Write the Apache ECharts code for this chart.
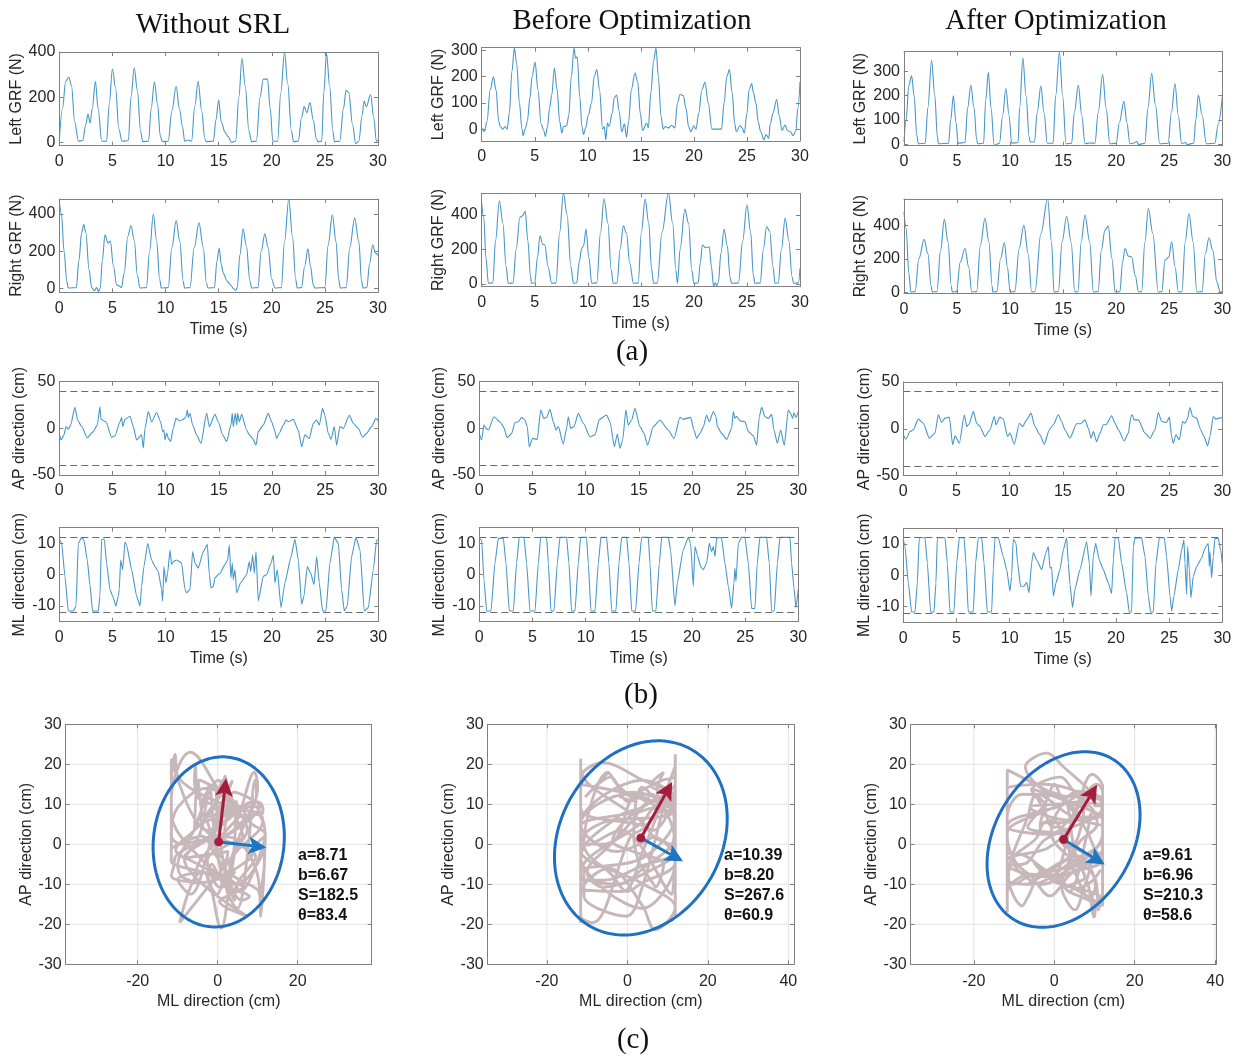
<!DOCTYPE html>
<html>
<head>
<meta charset="utf-8">
<title>GRF and COP sway comparison</title>
<script src="https://cdn.jsdelivr.net/npm/echarts@6.0.0/dist/echarts.min.js"></script>
<style>
  html, body { margin: 0; padding: 0; background: #ffffff; }
  #chart { width: 1238px; height: 1057px; }
</style>
</head>
<body>
<div id="chart"></div>
<script>
// ---------- data ----------
const columnTitles = ['Without SRL', 'Before Optimization', 'After Optimization'];
const panelTags = ['(a)', '(b)', '(c)'];
const timeTicks = [0, 5, 10, 15, 20, 25, 30];
const timeRange = [0, 30];

// ground reaction force, [time (s), force (N)]
const leftGrfWithout = [[0,8],[0.3,150],[0.6,270],[0.9,288],[1.15,250],[1.45,90],[1.8,5],[2.2,8],[2.5,80],[2.7,125],[2.9,85],[3.1,150],[3.4,270],[3.65,150],[4.0,5],[4.45,5],[4.7,170],[5.0,325],[5.3,240],[5.6,60],[5.9,5],[6.5,8],[6.75,200],[7.05,330],[7.35,230],[7.65,50],[7.85,3],[8.4,5],[8.65,150],[8.95,268],[9.25,170],[9.5,30],[9.7,3],[10.25,5],[10.6,140],[11.0,248],[11.3,150],[11.6,70],[11.8,5],[12.1,10],[12.45,5],[12.75,160],[13.07,270],[13.4,140],[13.7,15],[13.85,3],[14.5,5],[14.75,100],[15.0,187],[15.25,90],[15.6,45],[15.9,25],[16.2,0],[16.6,5],[16.9,200],[17.2,372],[17.5,250],[17.85,50],[18.1,3],[18.55,5],[18.9,200],[19.2,280],[19.6,280],[19.85,150],[20.1,5],[20.55,5],[20.85,220],[21.2,400],[21.5,260],[21.85,50],[22.05,3],[22.5,5],[22.8,110],[23.05,158],[23.3,131],[23.6,176],[23.9,100],[24.2,15],[24.35,3],[24.7,5],[24.9,220],[25.15,394],[25.45,250],[25.75,50],[25.9,3],[26.4,5],[26.75,150],[27.0,230],[27.25,220],[27.6,80],[27.9,-5],[28.2,5],[28.5,120],[28.7,183],[28.9,158],[29.3,212],[29.6,110],[29.85,5],[30,8]];
const rightGrfWithout = [[0,471],[0.2,400],[0.45,200],[0.7,40],[0.85,3],[1.6,5],[1.85,150],[2.1,300],[2.3,343],[2.5,300],[2.8,100],[3.05,5],[3.3,-12],[3.5,5],[3.7,-15],[3.85,0],[4.05,150],[4.3,288],[4.6,243],[4.8,254],[5.1,120],[5.4,20],[5.6,15],[5.85,5],[6.1,80],[6.45,280],[6.75,338],[7.05,260],[7.35,70],[7.6,3],[8.2,5],[8.5,200],[8.85,400],[9.15,260],[9.45,50],[9.6,3],[10.25,5],[10.6,220],[11.0,364],[11.35,250],[11.65,40],[11.8,3],[12.3,5],[12.7,220],[13.15,352],[13.55,220],[13.85,30],[14.0,3],[14.6,5],[14.85,150],[15.05,217],[15.25,130],[15.45,80],[15.8,40],[16.15,18],[16.4,0],[16.6,-10],[16.75,5],[17.0,180],[17.3,320],[17.6,230],[17.95,40],[18.1,3],[18.7,5],[19.0,200],[19.35,293],[19.65,220],[20.0,50],[20.3,3],[20.9,5],[21.2,250],[21.6,480],[21.95,280],[22.25,50],[22.4,3],[22.8,5],[23.1,120],[23.4,213],[23.65,120],[23.9,20],[24.05,3],[25.0,5],[25.3,230],[25.7,395],[26.05,250],[26.3,50],[26.45,3],[27.0,5],[27.35,220],[27.8,379],[28.2,250],[28.45,40],[28.6,3],[28.95,5],[29.2,130],[29.5,235],[29.75,190],[30,178]];
const leftGrfBefore = [[0,4],[0.25,-9],[0.5,30],[0.8,150],[1.1,199],[1.35,150],[1.6,30],[1.75,10],[2.0,0],[2.2,10],[2.4,0],[2.6,60],[2.85,220],[3.08,309],[3.3,250],[3.55,100],[3.8,0],[3.9,-25],[4.1,0],[4.3,30],[4.55,120],[4.75,200],[5.03,255],[5.3,150],[5.6,20],[5.85,-5],[6.0,-28],[6.2,10],[6.4,80],[6.6,130],[6.85,233],[7.1,150],[7.35,30],[7.55,-15],[7.7,10],[8.0,13],[8.2,50],[8.45,200],[8.7,309],[8.85,270],[9.0,275],[9.25,120],[9.45,10],[9.6,-20],[9.8,5],[10.05,54],[10.35,100],[10.6,200],[10.85,227],[11.1,150],[11.4,0],[11.55,10],[11.7,-40],[11.85,23],[12.0,10],[12.3,60],[12.5,120],[12.72,130],[12.95,70],[13.2,-10],[13.45,20],[13.65,-31],[13.85,30],[14.1,150],[14.45,214],[14.7,180],[14.95,60],[15.17,-5],[15.55,23],[15.7,5],[15.95,140],[16.2,260],[16.43,309],[16.65,200],[16.9,50],[17.1,0],[17.3,10],[17.6,5],[17.9,15],[18.2,5],[18.45,100],[18.7,132],[19.0,128],[19.25,80],[19.5,10],[19.7,-10],[20.0,13],[20.2,0],[20.45,60],[20.75,150],[21.05,178],[21.35,100],[21.7,0],[22.6,0],[22.85,100],[23.1,200],[23.35,227],[23.6,140],[23.85,20],[24.0,-10],[24.35,14],[24.55,5],[24.75,-15],[25.0,60],[25.2,150],[25.45,174],[25.6,140],[25.85,98],[26.05,30],[26.3,-10],[26.6,-40],[26.8,-20],[27.05,-35],[27.2,20],[27.45,60],[27.8,113],[28.05,50],[28.3,-5],[28.6,16],[28.8,-5],[29.1,-10],[29.35,-25],[29.6,-8],[29.8,80],[30,180]];
const rightGrfBefore = [[0,468],[0.2,380],[0.4,150],[0.63,3],[1.05,5],[1.3,250],[1.67,482],[2.0,350],[2.3,100],[2.5,3],[2.95,5],[3.25,200],[3.6,386],[3.85,395],[4.1,420],[4.35,250],[4.6,40],[4.7,3],[5.0,5],[5.25,150],[5.5,278],[5.75,230],[5.95,225],[6.25,100],[6.6,3],[7.0,5],[7.35,300],[7.7,526],[8.05,400],[8.4,100],[8.65,3],[8.95,5],[9.2,130],[9.42,206],[9.6,220],[9.83,317],[10.1,150],[10.37,3],[10.85,5],[11.2,300],[11.53,493],[11.9,350],[12.2,80],[12.4,3],[12.75,5],[13.05,200],[13.35,336],[13.65,293],[13.95,120],[14.3,3],[14.75,5],[15.05,300],[15.4,491],[15.75,350],[16.0,90],[16.2,3],[16.55,5],[17.0,300],[17.6,526],[18.0,350],[18.3,80],[18.45,3],[18.7,200],[19.15,433],[19.5,350],[19.8,80],[20.0,3],[20.4,5],[20.6,120],[20.8,225],[21.1,210],[21.45,215],[21.65,100],[21.85,-15],[22.0,5],[22.15,-10],[22.3,5],[22.55,180],[22.85,317],[23.15,220],[23.4,40],[23.55,3],[24.2,5],[24.6,250],[25.0,458],[25.35,300],[25.6,50],[25.75,3],[26.25,5],[26.55,200],[26.85,332],[27.15,303],[27.45,100],[27.65,3],[27.95,5],[28.25,200],[28.6,381],[28.95,250],[29.25,40],[29.4,3],[29.85,5],[30,90]];
const leftGrfAfter = [[0,11],[0.2,100],[0.45,240],[0.72,281],[0.95,200],[1.2,40],[1.35,3],[2.0,5],[2.25,150],[2.6,345],[2.9,200],[3.15,30],[3.25,3],[4.2,5],[4.4,100],[4.65,199],[4.9,90],[5.1,5],[5.75,8],[6.0,150],[6.3,243],[6.6,150],[6.85,20],[6.95,3],[7.5,5],[7.7,180],[7.95,297],[8.2,150],[8.5,-3],[9.0,5],[9.3,120],[9.6,229],[9.9,120],[10.15,5],[10.75,8],[10.9,150],[11.2,355],[11.5,200],[11.8,30],[11.9,10],[12.3,10],[12.55,130],[12.9,239],[13.2,130],[13.5,5],[14.05,5],[14.3,200],[14.65,379],[14.95,200],[15.27,3],[15.8,5],[16.05,130],[16.43,243],[16.75,120],[17.06,3],[17.5,6],[18.0,5],[18.3,130],[18.72,286],[19.05,150],[19.4,3],[20.0,5],[20.3,90],[20.73,177],[21.0,90],[21.3,3],[21.6,5],[21.95,12],[22.1,0],[22.7,5],[23.0,150],[23.34,290],[23.7,160],[24.1,3],[24.9,5],[25.2,130],[25.54,250],[25.85,120],[26.17,3],[26.5,8],[26.7,0],[27.3,5],[27.5,100],[27.74,202],[28.1,120],[28.5,3],[29.3,5],[29.6,80],[30,195]];
const rightGrfAfter = [[0,479],[0.2,380],[0.45,120],[0.65,3],[1.05,5],[1.4,200],[1.9,315],[2.25,230],[2.55,40],[2.67,3],[3.1,5],[3.45,250],[3.8,434],[4.15,300],[4.45,40],[4.55,3],[4.95,5],[5.3,180],[5.75,261],[6.1,150],[6.38,3],[6.85,5],[7.2,280],[7.63,440],[8.0,300],[8.3,40],[8.36,3],[8.75,5],[9.1,200],[9.46,295],[9.75,150],[10.0,3],[10.45,5],[10.85,260],[11.3,400],[11.7,230],[12.03,3],[12.35,5],[12.9,350],[13.54,555],[13.9,300],[14.14,3],[14.55,5],[14.9,300],[15.33,453],[15.75,300],[16.1,3],[16.4,5],[16.7,300],[17.06,459],[17.5,300],[17.85,3],[18.3,5],[18.6,250],[18.94,370],[19.25,394],[19.6,200],[19.9,3],[20.35,5],[20.6,180],[20.83,261],[21.15,216],[21.45,212],[21.8,100],[22.1,3],[22.4,5],[22.7,300],[23.03,499],[23.45,350],[23.97,3],[24.3,5],[24.6,192],[24.95,210],[25.23,301],[25.55,150],[25.86,3],[26.2,5],[26.5,300],[26.86,469],[27.25,300],[27.6,3],[28.1,5],[28.4,230],[28.75,325],[29.1,250],[29.5,60],[29.8,3],[30,5]];

const leftGrfTicks = [[0, 200, 400], [0, 100, 200, 300], [0, 100, 200, 300]];
const rightGrfTicks = [[0, 200, 400], [0, 200, 400], [0, 200, 400]];
const leftGrfRange = [[-15, 400], [-45, 310], [-5, 380]];
const rightGrfRange = [[-20, 480], [-17, 525], [-5, 555]];

// centre of pressure displacement, [time (s), displacement (cm)]
const apWithout = [[0,-6],[0.16,-12.5],[0.44,-7],[0.63,2],[0.85,-1],[1.07,3.5],[1.47,22.5],[1.72,9],[2.1,2],[2.63,-10],[3.2,-3.5],[3.57,3.5],[3.82,23],[3.92,9.6],[4.39,7],[4.92,-9.6],[5.24,-8],[5.71,7],[5.86,11.8],[5.96,1.8],[6.18,9.6],[6.65,13],[6.96,1.8],[7.27,-12.5],[7.74,-7],[7.9,-21],[8.06,0],[8.37,18],[8.68,7],[9.15,17],[9.53,7],[9.72,-3.5],[9.84,-1.8],[9.94,-12.5],[10.09,-5],[10.25,-10.7],[10.47,-14],[10.72,0],[10.97,10.7],[11.35,8],[11.66,9.6],[11.91,12.5],[12.04,19.6],[12.13,11.8],[12.29,16],[12.54,3.5],[12.92,-7],[13.32,-16],[13.86,16],[14.11,1.8],[14.64,15],[14.95,7],[15.36,-7],[15.74,-14],[16.14,3.5],[16.27,16],[16.36,1.8],[16.55,16],[16.68,3.5],[16.77,16],[16.93,7],[17.15,15],[17.62,-1.8],[17.87,-7],[18.18,-10.7],[18.5,-18],[18.71,-3.5],[19.18,3.5],[19.65,16],[19.97,7],[20.19,0],[20.44,-10.7],[20.69,-5],[21.07,3.5],[21.32,9],[21.54,7],[22.0,9.6],[22.48,-1.8],[22.79,-19.6],[23.1,-7],[23.51,-10.7],[23.89,5.4],[24.2,9],[24.45,3.5],[24.76,21.4],[24.98,14],[25.3,-5.4],[25.55,-11.8],[25.86,1.8],[26.08,-18],[26.39,1.8],[26.71,0],[27.27,14],[27.65,5.4],[28.12,0],[28.53,-9.6],[28.9,-5.4],[29.37,1.8],[29.78,10.7],[30,8]];
const mlWithout = [[0,11.6],[0.22,10],[0.53,-0.5],[0.85,-11.6],[1.32,-11.6],[1.57,-10],[1.79,10],[2.1,11.9],[2.32,11],[2.63,4.7],[2.88,-3.2],[3.13,-11.6],[3.67,-11.6],[3.82,-6.8],[3.98,11.3],[4.23,11.3],[4.45,3.7],[4.76,-4.7],[5.02,-6.8],[5.33,-10],[5.55,-6.8],[5.64,-4.7],[5.77,4.7],[5.96,1.6],[6.18,10.5],[6.33,9.5],[6.8,1.6],[7.27,-6.8],[7.59,-10],[7.74,-3.7],[7.96,2.6],[8.31,10],[8.68,4.7],[9.0,2.6],[9.31,1],[9.62,-4.7],[9.72,-8.4],[9.84,2.6],[10.03,-2.6],[10.19,0.5],[10.41,7.9],[10.56,3.2],[10.72,4.2],[11.03,4.7],[11.5,3.7],[11.82,-4.7],[11.97,-5.8],[12.29,-4.7],[12.54,7.4],[12.76,3.7],[13.07,2.1],[13.54,7.4],[13.92,9.7],[14.11,0],[14.26,-4.2],[14.48,-3.7],[14.64,-1],[15.11,0.5],[15.58,3.2],[15.83,4.7],[15.99,9.5],[16.14,-1],[16.27,3.7],[16.36,-1.6],[16.52,1.6],[16.68,-5.8],[17.05,-2.6],[17.62,0],[17.87,4.2],[18.0,1],[18.18,6.3],[18.34,0.5],[18.5,7.4],[18.71,-8.4],[19.18,-0.5],[19.5,0],[19.91,3.7],[20.13,6.3],[20.28,-2.6],[20.5,1.6],[20.85,-10.5],[21.22,-2.6],[21.76,5.3],[22.16,11.3],[22.48,4.7],[22.79,-9.5],[23.01,-6.8],[23.32,2.6],[23.64,0.5],[23.95,-3.2],[24.2,5.8],[24.45,-2.6],[24.76,-11.6],[25.08,-11.6],[25.45,3.7],[25.86,11.9],[26.24,10],[26.55,-4.7],[26.8,-11.6],[27.08,-10],[27.49,5.8],[27.9,11.9],[28.28,7.9],[28.68,-11.6],[29.06,-10.5],[29.53,1.6],[29.84,11],[30,11.3]];
const apBefore = [[0,-5.4],[0.22,-12.5],[0.44,3.5],[0.63,0],[0.85,-1.8],[1.38,12.5],[1.94,7],[2.26,1.8],[2.63,-10],[3.04,-5.4],[3.35,6],[3.67,7],[3.98,11.8],[4.29,9],[4.51,1.8],[4.7,-19.6],[5.02,-10.7],[5.45,-11.8],[5.77,19.6],[6.08,10.7],[6.33,11.8],[6.65,20.4],[6.96,7],[7.21,-1.8],[7.43,1.8],[7.9,-17],[8.21,0],[8.37,12.5],[8.59,0],[8.9,1.8],[9.31,16],[9.78,5.4],[10.41,-9],[10.88,-7],[11.29,9.6],[11.97,14.3],[12.29,7],[12.7,-19.6],[12.98,-6],[13.23,-21.4],[13.48,-12.5],[13.79,19.6],[14.01,3.5],[14.33,9],[14.64,21.4],[15.11,1.8],[15.49,-5.4],[15.83,-18],[16.36,1.8],[16.99,9],[17.77,-1.8],[18.31,-10.7],[18.87,11.8],[19.18,9.6],[19.5,10.7],[19.87,11.8],[20.19,-1.8],[20.44,-10.7],[20.75,-5.4],[21.07,1.8],[21.38,14.3],[21.63,7],[22.01,18],[22.26,12.5],[22.38,1.8],[22.79,-5.4],[23.26,-11.8],[23.73,0],[23.89,18],[24.04,10.7],[24.2,13],[24.51,8],[24.98,7],[25.3,-3.5],[25.77,-8],[26.08,-18],[26.33,12.5],[26.55,22.5],[26.87,12.5],[27.18,10.7],[27.49,15],[27.71,-1.8],[28.03,-16],[28.34,-1.8],[28.68,-18],[29.06,19.6],[29.28,16],[29.47,10.7],[29.59,16.8],[29.78,11.8],[30,18]];
const mlBefore = [[0,11.6],[0.22,11],[0.44,-1.6],[0.69,-11.6],[1.1,-11.6],[1.47,3.7],[1.79,11.6],[2.26,11.6],[2.51,3.7],[2.82,-11.6],[3.2,-11.6],[3.51,3.7],[3.76,11.9],[4.2,11.9],[4.45,3.7],[4.76,-11.6],[5.24,-11.6],[5.55,3.7],[5.77,11.9],[6.33,11.9],[6.49,3.7],[6.74,-11.6],[7.02,-11.6],[7.34,3.7],[7.59,11.9],[8.21,11.9],[8.43,3.7],[8.68,-11.6],[9.0,-11.6],[9.31,3.7],[9.53,11.9],[10.09,11.9],[10.25,3.7],[10.5,-11.6],[10.88,-11.6],[11.19,3.7],[11.44,11.9],[11.97,11.9],[12.19,3.7],[12.45,-11.6],[12.85,-11.6],[13.13,3.7],[13.39,11.9],[13.86,11.9],[14.08,3.7],[14.33,-11.6],[14.7,-11.6],[15.02,3.7],[15.27,11.9],[15.89,11.9],[16.05,3.7],[16.27,-11.6],[16.61,-11.6],[16.93,3.7],[17.15,11.9],[17.77,11.9],[17.99,7.9],[18.4,-10],[18.62,-2.6],[19.18,7.9],[19.65,11.9],[19.87,10],[20.13,-3.7],[20.28,9],[20.5,6.3],[20.82,2.6],[21.07,1.6],[21.38,3.7],[21.63,10],[21.85,7.4],[22.01,9],[22.16,5.8],[22.32,11.6],[22.63,11.9],[22.79,11.6],[23.1,3.7],[23.42,-3.7],[23.73,-10.8],[23.95,-2.6],[24.04,2.1],[24.14,-2.1],[24.36,10],[24.67,11.9],[24.98,11.9],[25.3,3.7],[25.61,-10.8],[25.92,-10.8],[26.14,3.7],[26.39,11.9],[27.02,11.9],[27.27,3.7],[27.49,-11.6],[27.74,-11.6],[28.03,3.7],[28.28,11.9],[29.22,11.9],[29.37,3.7],[29.59,-4.2],[29.78,-10.5],[30,-4.7]];
const apAfter = [[0,-6.4],[0.25,-11],[0.63,-2.9],[0.94,-1],[1.41,10.4],[1.88,6],[2.45,-10],[2.98,-4.6],[3.29,15],[3.61,6.8],[3.92,11.4],[4.33,12.5],[4.64,-17],[4.86,-7.5],[5.27,-15.4],[5.74,15],[5.96,2.5],[6.21,5.4],[6.58,18.6],[6.9,6],[7.21,2.5],[7.68,-8.2],[8.15,-1],[8.56,13.2],[8.71,4.3],[9.09,12.5],[9.4,10.4],[9.81,-8.2],[10.03,-4.6],[10.44,-16.4],[10.91,6],[11.22,2.5],[11.6,9.6],[12.01,16.8],[12.38,2.5],[12.85,-6.4],[13.26,-16.4],[13.73,-1],[14.11,4.3],[14.58,15],[14.89,7.9],[15.2,-1],[15.67,-10],[16.3,5.4],[16.68,5.4],[17.08,9.6],[17.4,0.7],[17.65,-10],[17.87,-2.9],[18.18,-13.6],[18.5,-4.6],[18.81,4.3],[19.06,4.3],[19.59,14],[19.91,6],[20.22,-1],[20.78,-12.9],[21.16,-4.6],[21.41,13.2],[21.54,15],[21.69,9.6],[22.1,9.6],[22.73,-4.6],[23.2,-10],[23.67,-1],[23.98,17.5],[24.29,7.9],[24.76,6.8],[25.02,12.5],[25.24,-8.2],[25.39,-15.4],[25.64,-6.4],[25.96,-11.8],[26.27,7.9],[26.49,6],[26.71,10.4],[26.96,22.8],[27.21,13.2],[27.59,11.4],[27.9,0.7],[28.28,-8.2],[28.62,-18.2],[28.84,-8.2],[29.15,13.2],[29.4,10.4],[29.72,11.4],[30,12.5]];
const mlAfter = [[0,11.5],[0.16,9.2],[0.47,-2.4],[0.78,-11.7],[1.1,-11.7],[1.32,-2.4],[1.5,12],[2.04,12],[2.26,3.9],[2.57,-11.7],[2.88,-11.7],[3.07,-2.4],[3.2,12],[3.92,12],[4.14,3.9],[4.39,-11.7],[4.76,-11.7],[5.02,3.9],[5.27,12],[5.71,12],[5.89,3.9],[6.11,-11.7],[6.58,-11.7],[6.8,3.9],[7.05,12],[7.37,12],[7.59,3.9],[7.9,-11.7],[8.31,-11.7],[8.46,1.8],[8.62,12],[8.93,12],[9.4,6],[9.72,1.8],[10.03,-5.1],[10.19,-0.3],[10.34,11.5],[10.6,10.2],[10.75,3.9],[11.03,-3.5],[11.35,-3.5],[11.6,-2.2],[11.82,-5.6],[12.07,3.9],[12.23,7.3],[12.54,4.9],[13.01,1.8],[13.42,7.3],[13.64,9.2],[13.79,2.3],[13.95,2.6],[14.11,-6.6],[14.36,-2.4],[14.73,1.8],[15.05,8.1],[15.36,12],[15.52,3.9],[15.67,-2.9],[15.92,-10.3],[16.14,-4.5],[16.61,1.8],[17.24,10.7],[17.49,3.9],[17.65,-6.6],[17.87,6],[18.09,10.2],[18.43,4.9],[18.81,1.8],[19.28,-2.4],[19.59,-5.8],[19.75,4.9],[19.91,12],[20.22,12],[20.53,3.9],[21.0,-5.6],[21.25,-11.7],[21.47,-11.7],[21.63,9.2],[21.79,11.8],[22.41,12],[22.73,6],[23.04,-6.6],[23.26,-11.7],[23.51,-11.7],[23.76,3.9],[24.08,12],[24.55,12],[24.76,6],[25.08,-6.6],[25.24,-11.4],[25.45,-6.6],[25.86,1.8],[26.18,8.1],[26.39,11.3],[26.49,3.9],[26.65,-6.1],[26.74,9.2],[26.9,1.8],[27.05,-7.2],[27.27,-0.3],[27.59,2.8],[28.06,5.5],[28.37,8.6],[28.68,10.2],[28.78,2.8],[28.84,7.6],[29.0,-0.8],[29.15,6],[29.31,11.8],[29.62,11.8],[29.84,8.1],[30,3.9]];

const apTicks = [-50, 0, 50];
const apRange = [-50, 50];
const apLimit = 40;
const mlTicks = [-10, 0, 10];
const mlRange = [-15, 15];
const mlLimit = 12;

// sway ellipse statistics
const ellipseA = [8.71, 10.39, 9.61];
const ellipseB = [6.67, 8.20, 6.96];
const ellipseArea = [182.5, 267.6, 210.3];
const ellipseTheta = [83.4, 60.9, 58.6];
const ellipseCenter = [[0.25, 0.6], [3.35, 1.6], [2.3, 1.2]];
const swayXTicks = [[-20, 0, 20], [-20, 0, 20, 40], [-20, 0, 20, 40]];
const swayXRange = [[-38, 38.5], [-34.7, 41.4], [-35.7, 40.2]];
const swayYTicks = [-30, -20, -10, 0, 10, 20, 30];
const swayYRange = [-30, 30];

// ---------- layout & style ----------
const LAYOUT = {
  ts: [
    [[59.3, 52, 318.7, 93.7], [59.3, 199, 318.7, 93.3], [59.3, 381.7, 319, 93.3], [59.3, 527.7, 319, 94]],
    [[481.7, 47.7, 318.3, 93.3], [481.7, 193.3, 318.3, 93.4], [479.3, 381.7, 319, 93.3], [479.3, 527.7, 319, 94]],
    [[904, 51.7, 318.3, 94], [904, 199, 318.3, 94.3], [903.3, 382, 319, 93.7], [903.3, 528.3, 319, 94]]
  ],
  tsNameGap: [[34, 34, 32, 32], [35, 35, 31.5, 31.5], [35.5, 35.5, 31, 31]],
  sway: [[65.7, 724.3, 306, 240], [487.7, 724.3, 306.3, 240], [910.7, 724.3, 305.3, 240]],
  swayNameGap: [31, 31.5, 31],
  titles: [[213, 25], [632, 21.5], [1056, 21.5]],
  tags: [[632, 352], [641, 695], [633, 1040]],
  stats: [[298, 856], [724, 856], [1143, 856]]
};
const AXIS_COLOR = '#808080';
const TEXT_COLOR = '#262626';
const SANS = '"Liberation Sans", Arial, Helvetica, sans-serif';
const SERIF = '"Liberation Serif", "Times New Roman", serif';
const TRACE_COLOR = '#4797c9';
const LIMIT_STYLE = { color: '#6a6a6a', width: 1.2, type: [7, 4] };
const SWAY_COLOR = '#c8b7ba';
const ELLIPSE_COLOR = '#1f70c1';
const MAJOR_COLOR = '#a51d3b';
const MINOR_COLOR = '#1c77c3';
const CONF_SCALE = 2.4477;          // 95% confidence scaling of the sway ellipse
const ARROW_LEN = [16, 12];          // principal-axis arrow lengths (cm)

// ---------- builders ----------
const grids = [], xAxes = [], yAxes = [], series = [], graphics = [];

function axisSet(gridIndex, range, ticks, pos, showLabel, name, nameGap, margin) {
  return {
    gridIndex, type: 'value', position: pos, min: range[0], max: range[1], z: 8,
    axisLine: { show: true, onZero: false, lineStyle: { color: AXIS_COLOR, width: 1 } },
    axisTick: { show: true, inside: true, length: 4, customValues: ticks, lineStyle: { color: AXIS_COLOR, width: 1 } },
    axisLabel: showLabel
      ? { show: true, customValues: ticks, margin, color: TEXT_COLOR, fontSize: 16, fontFamily: SANS }
      : { show: false },
    splitLine: { show: false },
    name: name || '', nameLocation: 'middle', nameGap: nameGap || 0,
    nameTextStyle: { color: TEXT_COLOR, fontSize: 16, fontFamily: SANS }
  };
}

function addPanel(box, xRange, xTicks, xName, yRange, yTicks, yName, yGap, xGap, xMargin) {
  const g = grids.length;
  grids.push({ left: box[0], top: box[1], width: box[2], height: box[3], containLabel: false });
  const xi = xAxes.length, yi = yAxes.length;
  xAxes.push(axisSet(g, xRange, xTicks, 'bottom', true, xName, xGap, xMargin || 8));
  xAxes.push(axisSet(g, xRange, xTicks, 'top', false));
  yAxes.push(axisSet(g, yRange, yTicks, 'left', true, yName, yGap, 4));
  yAxes.push(axisSet(g, yRange, yTicks, 'right', false));
  return { xi, yi };
}

function traceSeries(ax, data, smooth, limit) {
  const s = {
    type: 'line', xAxisIndex: ax.xi, yAxisIndex: ax.yi, data,
    showSymbol: false, smooth, smoothMonotone: 'x', clip: true, silent: true,
    lineStyle: { color: TRACE_COLOR, width: 1.1 }, z: 3
  };
  if (limit != null) {
    s.markLine = {
      silent: true, symbol: 'none', label: { show: false },
      lineStyle: LIMIT_STYLE, data: [{ yAxis: limit }, { yAxis: -limit }]
    };
  }
  return s;
}

function valueAt(track, t) {
  for (let i = 1; i < track.length; i++) {
    if (track[i][0] >= t) {
      const [t0, v0] = track[i - 1], [t1, v1] = track[i];
      return t1 === t0 ? v1 : v0 + (v1 - v0) * (t - t0) / (t1 - t0);
    }
  }
  return track[track.length - 1][1];
}

// pair ML and AP readings on their shared time stamps
function swayPath(ml, ap) {
  const times = Array.from(new Set(ml.map(p => p[0]).concat(ap.map(p => p[0])))).sort((a, b) => a - b);
  return times.map(t => [valueAt(ml, t), valueAt(ap, t)]);
}

function gridLineRender(params, api) {
  const v = api.value(0), dir = api.value(1);
  const cs = params.coordSys;
  if (dir === 0) {
    const x = api.coord([v, 0])[0];
    return { type: 'line', shape: { x1: x, y1: cs.y, x2: x, y2: cs.y + cs.height }, style: { stroke: '#e3e3e3', lineWidth: 1 } };
  }
  const y = api.coord([0, v])[1];
  return { type: 'line', shape: { x1: cs.x, y1: y, x2: cs.x + cs.width, y2: y }, style: { stroke: '#e3e3e3', lineWidth: 1 } };
}

function ellipseRender(params, api) {
  const cx = api.value(0), cy = api.value(1);
  const A = api.value(2) * CONF_SCALE, B = api.value(3) * CONF_SCALE;
  const th = api.value(4) * Math.PI / 180;
  const pts = [];
  for (let i = 0; i <= 180; i++) {
    const p = i / 180 * 2 * Math.PI;
    const x = cx + A * Math.cos(p) * Math.cos(th) - B * Math.sin(p) * Math.sin(th);
    const y = cy + A * Math.cos(p) * Math.sin(th) + B * Math.sin(p) * Math.cos(th);
    pts.push(api.coord([x, y]));
  }
  return { type: 'polyline', shape: { points: pts }, style: { stroke: ELLIPSE_COLOR, lineWidth: 3, fill: null } };
}

function arrowShape(p0, p1, color) {
  const dx = p1[0] - p0[0], dy = p1[1] - p0[1];
  const L = Math.hypot(dx, dy), ux = dx / L, uy = dy / L;
  const hl = 18, hw = 9, notch = 4;
  const bx = p1[0] - ux * hl, by = p1[1] - uy * hl;
  return [
    { type: 'line', shape: { x1: p0[0], y1: p0[1], x2: bx + ux * notch, y2: by + uy * notch }, style: { stroke: color, lineWidth: 3 } },
    { type: 'polygon', shape: { points: [[p1[0], p1[1]], [bx - uy * hw, by + ux * hw], [bx + ux * notch, by + uy * notch], [bx + uy * hw, by - ux * hw]] }, style: { fill: color } }
  ];
}

function axesRender(params, api) {
  const cx = api.value(0), cy = api.value(1), th = api.value(2) * Math.PI / 180;
  const p0 = api.coord([cx, cy]);
  const major = api.coord([cx + ARROW_LEN[0] * Math.cos(th), cy + ARROW_LEN[0] * Math.sin(th)]);
  const tm = th - Math.PI / 2;
  const minor = api.coord([cx + ARROW_LEN[1] * Math.cos(tm), cy + ARROW_LEN[1] * Math.sin(tm)]);
  return {
    type: 'group',
    children: arrowShape(p0, minor, MINOR_COLOR)
      .concat(arrowShape(p0, major, MAJOR_COLOR))
      .concat([{ type: 'circle', shape: { cx: p0[0], cy: p0[1], r: 4.5 }, style: { fill: MAJOR_COLOR } }])
  };
}

// ---------- panels ----------
const leftGrf = [leftGrfWithout, leftGrfBefore, leftGrfAfter];
const rightGrf = [rightGrfWithout, rightGrfBefore, rightGrfAfter];
const apTracks = [apWithout, apBefore, apAfter];
const mlTracks = [mlWithout, mlBefore, mlAfter];

for (let c = 0; c < 3; c++) {
  const L = LAYOUT.ts[c], G = LAYOUT.tsNameGap[c];
  const a1 = addPanel(L[0], timeRange, timeTicks, '', leftGrfRange[c], leftGrfTicks[c], 'Left GRF (N)', G[0]);
  series.push(traceSeries(a1, leftGrf[c], 0.35));
  const a2 = addPanel(L[1], timeRange, timeTicks, 'Time (s)', rightGrfRange[c], rightGrfTicks[c], 'Right GRF (N)', G[1], 29);
  series.push(traceSeries(a2, rightGrf[c], 0.35));
  const a3 = addPanel(L[2], timeRange, timeTicks, '', apRange, apTicks, 'AP direction (cm)', G[2]);
  series.push(traceSeries(a3, apTracks[c], 0.2, apLimit));
  const a4 = addPanel(L[3], timeRange, timeTicks, 'Time (s)', mlRange, mlTicks, 'ML direction (cm)', G[3], 29);
  series.push(traceSeries(a4, mlTracks[c], 0.15, mlLimit));

  const a5 = addPanel(LAYOUT.sway[c], swayXRange[c], swayXTicks[c], 'ML direction (cm)', swayYRange, swayYTicks, 'AP direction (cm)', LAYOUT.swayNameGap[c], 29, 9);
  series.push({
    type: 'custom', xAxisIndex: a5.xi, yAxisIndex: a5.yi, silent: true, z: 1,
    data: swayXTicks[c].map(v => [v, 0]).concat(swayYTicks.map(v => [v, 1])),
    renderItem: gridLineRender
  });
  series.push({
    type: 'line', xAxisIndex: a5.xi, yAxisIndex: a5.yi, silent: true, z: 2, clip: true,
    data: swayPath(mlTracks[c], apTracks[c]), showSymbol: false, smooth: 0.35,
    lineStyle: { color: SWAY_COLOR, width: 2.9 }
  });
  series.push({
    type: 'custom', xAxisIndex: a5.xi, yAxisIndex: a5.yi, silent: true, z: 4,
    data: [[ellipseCenter[c][0], ellipseCenter[c][1], ellipseA[c], ellipseB[c], ellipseTheta[c]]],
    renderItem: ellipseRender
  });
  series.push({
    type: 'custom', xAxisIndex: a5.xi, yAxisIndex: a5.yi, silent: true, z: 5,
    data: [[ellipseCenter[c][0], ellipseCenter[c][1], ellipseTheta[c]]],
    renderItem: axesRender
  });

  // column heading, panel tag and ellipse statistics
  graphics.push({
    type: 'text', x: LAYOUT.titles[c][0], y: LAYOUT.titles[c][1], silent: true,
    style: { text: columnTitles[c], font: '29px ' + SERIF, fill: '#111111', align: 'center', verticalAlign: 'middle' }
  });
  graphics.push({
    type: 'text', x: LAYOUT.tags[c][0], y: LAYOUT.tags[c][1], silent: true,
    style: { text: panelTags[c], font: '29px ' + SERIF, fill: '#111111', align: 'center', verticalAlign: 'middle' }
  });
  const lines = [
    'a=' + ellipseA[c].toFixed(2),
    'b=' + ellipseB[c].toFixed(2),
    'S=' + ellipseArea[c].toFixed(1),
    '\u03b8=' + ellipseTheta[c].toFixed(1)
  ];
  lines.forEach((txt, i) => {
    graphics.push({
      type: 'text', x: LAYOUT.stats[c][0], y: LAYOUT.stats[c][1] + i * 20, silent: true,
      style: { text: txt, font: 'bold 16px ' + SANS, fill: '#111111', align: 'left', verticalAlign: 'middle' }
    });
  });
}

const chart = echarts.init(document.getElementById('chart'), null, { renderer: 'canvas' });
chart.setOption({
  animation: false,
  backgroundColor: '#ffffff',
  grid: grids,
  xAxis: xAxes,
  yAxis: yAxes,
  series,
  graphic: { elements: graphics }
});
</script>
</body>
</html>
